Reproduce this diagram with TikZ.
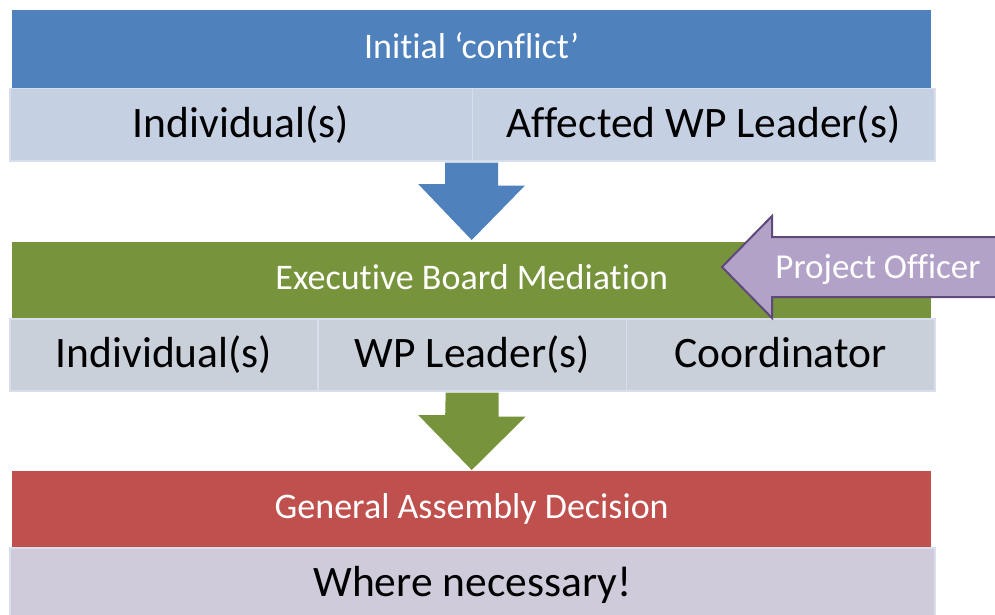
\documentclass[tikz,border=0pt]{standalone}
\usepackage{fontspec}
\setmainfont{Carlito}[Ligatures={NoCommon}]
\usetikzlibrary{calc}
\definecolor{blx}{HTML}{4F81BD}
\definecolor{blrow}{HTML}{C6D0E3}
\definecolor{grx}{HTML}{77933C}
\definecolor{grrow}{HTML}{C9D0D9}
\definecolor{rex}{HTML}{C0504D}
\definecolor{rerow}{HTML}{CFCBDA}
\definecolor{pux}{HTML}{B3A2C7}
\definecolor{puline}{HTML}{5F497A}
\definecolor{celline}{HTML}{D8DEEC}

\begin{document}
\begin{tikzpicture}[
    x=1pt,y=-1pt,
    bar/.style={anchor=north west,minimum width=919pt,minimum height=76pt,inner sep=0pt,
        text=white,font=\fontsize{36}{40}\selectfont,text height=27pt,text depth=9pt},
    cell/.style={anchor=north west,draw=celline,line width=1.5pt,minimum height=72pt,inner sep=0pt,
        font=\fontsize{43.5}{48}\selectfont,text height=34pt,text depth=9pt}
]
    \useasboundingbox (0,0) rectangle (995,615);

    % stage 1
    \node [bar,fill=blx,minimum height=78pt] (conf) at (12,10) {Initial ‘conflict’};
    \node [cell,fill=blrow,minimum width=462.5pt] (ind) at (9,88) {Individual(s)};
    \node [cell,fill=blrow,minimum width=462.5pt] (aff) at (471.5,88) {Affected WP Leader(s)};

    % stage 2
    \node [bar,fill=grx] (ebm) at (12,242) {Executive Board Mediation};
    \node [cell,fill=grrow,minimum width=308.3pt] (ebind) at (9,318) {Individual(s)};
    \node [cell,fill=grrow,minimum width=308.3pt] (ebwp) at (317.3,318) {WP Leader(s)};
    \node [cell,fill=grrow,minimum width=308.3pt] (ebco) at (625.7,318) {Coordinator};

    % stage 3
    \node [bar,fill=rex] (gad) at (12,471) {General Assembly Decision};
    \node [cell,fill=rerow,minimum width=925pt] (nec) at (9,547) {Where necessary!};

    % block arrows between the stages
    \fill [blx]
        (aff.south west) ++(-26.5,1) -- ++(53,0) -- ++(0,23) -- ++(27,0)
        -- ($(ebm.north)+(0,-2)$) -- ++(-53.5,-56) -- ++(27,0) -- cycle
    ;
    \fill [grx]
        (ebwp.south) ++(-26.5,1) -- ++(53,0) -- ++(0,24) -- ++(27,0)
        -- ($(gad.north)+(0,-1)$) -- ++(-53.5,-55) -- ++(27,0) -- cycle
    ;

    % project officer input
    \draw [puline,line width=2pt,fill=pux,line join=miter]
        (1000,237) -- (772,237) -- (772,216) -- (722,267)
        -- (772,318) -- (772,297) -- (1000,297)
    ;
    \node [anchor=base,text=white,font=\fontsize{35}{40}\selectfont] (po) at (878,278) {Project Officer};
\end{tikzpicture}
\end{document}
